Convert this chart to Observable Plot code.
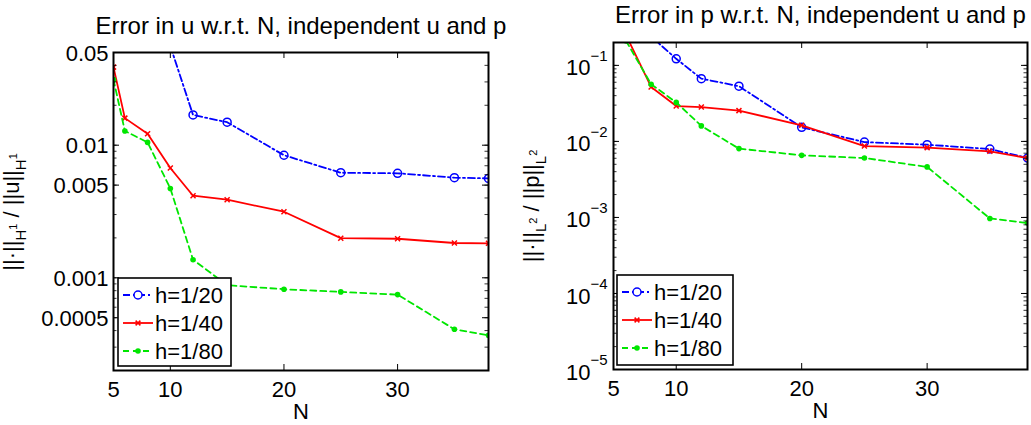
<!DOCTYPE html>
<html>
<head>
<meta charset="utf-8">
<script src="https://cdn.jsdelivr.net/npm/d3@7"></script>
<script src="https://cdn.jsdelivr.net/npm/@observablehq/plot@0.6"></script>
<style>
  body { margin: 0; background: #fff; }
  #chart { position: relative; width: 1031px; height: 425px; overflow: hidden; font-family: "Liberation Sans", Arial, sans-serif; }
  #chart > svg { position: absolute; top: 0; }
</style>
</head>
<body>
<div id="chart"></div>
<script>
// Number of modes N used in each run
const N = [5, 6, 8, 10, 12, 15, 20, 25, 30, 35, 38];

// Relative H1 error in u, one series per mesh size h
const uErrH20 = [null, null, null, 0.056, 0.0169, 0.0149, 0.0084, 0.0062, 0.00614, 0.00569, 0.00562];
const uErrH40 = [0.0388, 0.016, 0.0122, 0.00673, 0.00416, 0.00388, 0.00315, 0.00199, 0.00197, 0.00183, 0.00182];
const uErrH80 = [0.0312, 0.0128, 0.0105, 0.00472, 0.00137, 0.00088, 0.00082, 0.000783, 0.000747, 0.000409, 0.000368];

// Relative L2 error in p, one series per mesh size h
const pErrH20 = [null, null, 0.24, 0.122, 0.0669, 0.0532, 0.0153, 0.0098, 0.00906, 0.00795, 0.00605];
const pErrH40 = [null, 0.25, 0.052, 0.0292, 0.0283, 0.0254, 0.0163, 0.00869, 0.00828, 0.00741, 0.00605];
const pErrH80 = [null, 0.21, 0.0565, 0.0326, 0.016, 0.00804, 0.00656, 0.00605, 0.00462, 0.00097, 0.000845];

const seriesNames = ["h=1/20", "h=1/40", "h=1/80"];

// Axis ticks and labels
const nTicks = [5, 10, 20, 30];
const uTicks = [0.0005, 0.001, 0.005, 0.01, 0.05];
const uTickLabels = ["0.0005", "0.001", "0.005", "0.01", "0.05"];
const pTicks = [1e-5, 1e-4, 1e-3, 1e-2, 1e-1];
const pTickBase = "10";
const pTickExp = ["\u22125", "\u22124", "\u22123", "\u22122", "\u22121"];

const uTitle = "Error in u w.r.t. N, independent u and p";
const pTitle = "Error in p w.r.t. N, independent u and p";
const xLabel = "N";

// Line/marker styles per series
const styles = {
  "h=1/20": { color: "#0000ff", dash: "7,3,2,3", marker: "circle" },
  "h=1/40": { color: "#ff0000", dash: null, marker: "times" },
  "h=1/80": { color: "#00e600", dash: "6,4", marker: "dot" }
};

const FONT = 22;
const FAMILY = "Liberation Sans, Arial, sans-serif";

function toRows(lists) {
  const rows = [];
  lists.forEach((vals, k) => {
    vals.forEach((v, i) => rows.push({ N: N[i], err: v, h: seriesNames[k] }));
  });
  return rows;
}

// minor log ticks (1..9 x 10^k) inside the domain
function logMinor([lo, hi]) {
  const out = [];
  for (let e = Math.floor(Math.log10(lo)); e <= Math.ceil(Math.log10(hi)); e++) {
    for (let m = 1; m <= 9; m++) {
      const v = +(m * Math.pow(10, e)).toPrecision(6);
      if (v >= lo * 0.9999 && v <= hi * 1.0001) out.push(v);
    }
  }
  return out;
}

function seriesMarks(rows) {
  const marks = [];
  for (const name of seriesNames) {
    const s = styles[name];
    const data = rows.filter(d => d.h === name);
    const pts = data.filter(d => d.err != null);
    marks.push(Plot.line(data, {
      x: "N", y: "err", stroke: s.color, strokeWidth: 1.8,
      strokeDasharray: s.dash ?? undefined, clip: true
    }));
    if (s.marker === "circle") {
      marks.push(Plot.dot(pts, { x: "N", y: "err", r: 4, stroke: s.color, fill: "none", strokeWidth: 1.5, clip: true }));
    } else if (s.marker === "times") {
      marks.push(Plot.dot(pts, { x: "N", y: "err", symbol: "times", r: 2.4, stroke: s.color, strokeWidth: 1.5, clip: true }));
    } else {
      marks.push(Plot.dot(pts, { x: "N", y: "err", r: 2.8, fill: s.color, stroke: "none", clip: true }));
    }
  }
  return marks;
}

function tickMarks(pw, ph, yMajor, yMinor) {
  const major = 6, minor = 3.5;
  return [
    Plot.tickX(nTicks, { x: d => d, insetTop: ph - major, stroke: "black", strokeWidth: 1 }),
    Plot.tickX(nTicks, { x: d => d, insetBottom: ph - major, stroke: "black", strokeWidth: 1 }),
    Plot.tickY(yMajor, { y: d => d, insetRight: pw - major, stroke: "black", strokeWidth: 1 }),
    Plot.tickY(yMajor, { y: d => d, insetLeft: pw - major, stroke: "black", strokeWidth: 1 }),
    Plot.tickY(yMinor, { y: d => d, insetRight: pw - minor, stroke: "black", strokeWidth: 0.8 }),
    Plot.tickY(yMinor, { y: d => d, insetLeft: pw - minor, stroke: "black", strokeWidth: 0.8 })
  ];
}

function drawLegend(svg, x, y, w, h, rowY) {
  const g = d3.select(svg).append("g")
    .attr("font-family", FAMILY).attr("font-size", FONT).attr("text-anchor", "start");
  g.append("rect").attr("x", x).attr("y", y).attr("width", w).attr("height", h)
    .attr("fill", "white").attr("stroke", "black").attr("stroke-width", 1.6);
  seriesNames.forEach((name, i) => {
    const s = styles[name];
    const cy = y + rowY[i];
    const x0 = x + 5, x1 = x + 35, cx = (x0 + x1) / 2;
    g.append("line").attr("x1", x0).attr("x2", x1).attr("y1", cy).attr("y2", cy)
      .attr("stroke", s.color).attr("stroke-width", 1.8).attr("stroke-dasharray", s.dash);
    if (s.marker === "circle") {
      g.append("circle").attr("cx", cx).attr("cy", cy).attr("r", 4).attr("fill", "white")
        .attr("stroke", s.color).attr("stroke-width", 1.5);
    } else if (s.marker === "times") {
      const r = 2.4;
      g.append("path").attr("d", `M${cx - r},${cy - r}L${cx + r},${cy + r}M${cx - r},${cy + r}L${cx + r},${cy - r}`)
        .attr("stroke", s.color).attr("stroke-width", 1.5);
    } else {
      g.append("circle").attr("cx", cx).attr("cy", cy).attr("r", 2.8).attr("fill", s.color);
    }
    g.append("text").attr("x", x1 + 2).attr("y", cy).attr("dy", "0.35em").attr("fill", "black").text(name);
  });
}

// rotated label built from [text, size, dy] pieces (subscripts / superscripts)
function drawYLabel(svg, x, y, parts) {
  const t = d3.select(svg).append("text")
    .attr("transform", `translate(${x},${y}) rotate(-90)`)
    .attr("text-anchor", "middle")
    .attr("font-family", FAMILY)
    .attr("fill", "black");
  for (const [txt, size, dy] of parts) {
    t.append("tspan").attr("font-size", size).attr("dy", dy).text(txt);
  }
}

function panel({ width, height, margin, yDomain, lists, title, titleDy, isU }) {
  const [mt, mr, mb, ml] = margin;
  const pw = width - ml - mr, ph = height - mt - mb;
  const rows = toRows(lists);
  const yMajor = isU ? uTicks : pTicks;
  const marks = [
    ...seriesMarks(rows),
    ...tickMarks(pw, ph, yMajor, logMinor(yDomain)),
    Plot.axisX({ ticks: nTicks, tickSize: 0, tickPadding: 11, fontSize: FONT, label: null }),
    Plot.text([title], { text: d => d, frameAnchor: "top", dy: titleDy, lineAnchor: "bottom", fontSize: 24 }),
    Plot.text([xLabel], { text: d => d, frameAnchor: "bottom", dy: 48, lineAnchor: "bottom", fontSize: FONT })
  ];
  if (isU) {
    marks.push(Plot.text(uTicks, {
      y: d => d, text: (d, i) => uTickLabels[i], frameAnchor: "left",
      textAnchor: "end", dx: -5, dy: 1, fontSize: FONT
    }));
  } else {
    marks.push(Plot.text(pTicks, { y: d => d, text: () => pTickBase, frameAnchor: "left", textAnchor: "end", dx: -23, dy: 3, fontSize: FONT }));
    marks.push(Plot.text(pTicks, { y: d => d, text: (d, i) => pTickExp[i], frameAnchor: "left", textAnchor: "start", dx: -23, dy: -9, fontSize: 15 }));
  }
  marks.push(Plot.frame({ stroke: "black", strokeWidth: 2 }));
  return Plot.plot({
    width, height,
    marginTop: mt, marginRight: mr, marginBottom: mb, marginLeft: ml,
    x: { domain: [5, 38], axis: null },
    y: { type: "log", domain: yDomain, axis: null },
    style: { fontFamily: FAMILY, fontSize: FONT + "px", color: "black", background: "transparent", overflow: "visible" },
    marks
  });
}

const chart = document.getElementById("chart");

const left = panel({
  width: 520, height: 425, margin: [52, 32, 55, 113],
  yDomain: [0.0002, 0.05], lists: [uErrH20, uErrH40, uErrH80],
  title: uTitle, titleDy: -19, isU: true
});
left.style.left = "0px";
chart.appendChild(left);
drawLegend(left, 118, 278, 113, 88, [17, 45, 73]);
drawYLabel(left, 19, 212, [
  ["||\u00b7||", FONT, 0], ["H", 15, 7], ["1", 11, -9],
  [" / ||u||", FONT, 2], ["H", 15, 7], ["1", 11, -9]
]);

const right = panel({
  width: 511, height: 425, margin: [42, 4, 56, 93],
  yDomain: [1e-5, 0.2], lists: [pErrH20, pErrH40, pErrH80],
  title: pTitle, titleDy: -20, isU: false
});
right.style.left = "520px";
chart.appendChild(right);
drawLegend(right, 97, 275, 116, 90, [17, 45, 73]);
drawYLabel(right, 19, 206, [
  ["||\u00b7||", FONT, 0], ["L", 15, 7], ["2", 11, -9],
  [" / ||p||", FONT, 2], ["L", 15, 7], ["2", 11, -9]
]);
</script>
</body>
</html>
